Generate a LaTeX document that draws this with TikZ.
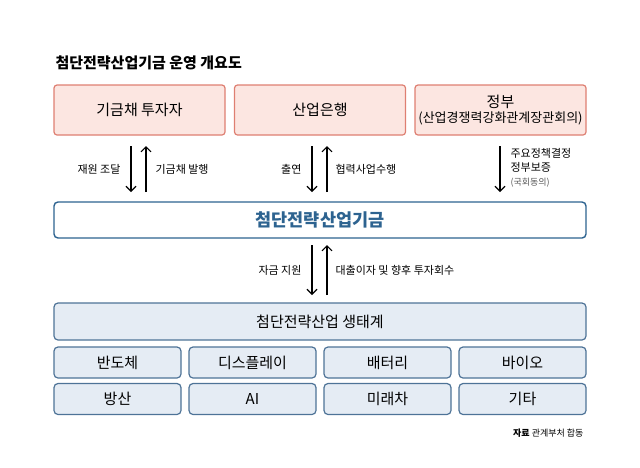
\documentclass[tikz,border=0pt]{standalone}
\usepackage{fontspec}
\setmainfont{Noto Sans CJK KR}
\usetikzlibrary{arrows.meta}
\definecolor{pinkfill}{HTML}{FCE6E1}
\definecolor{pinkline}{HTML}{DE7F72}
\definecolor{bluefill}{HTML}{E5ECF4}
\definecolor{blueline}{HTML}{4E7397}
\definecolor{titleblue}{HTML}{2D6390}
\tikzset{
  topbox/.style={draw=pinkline,fill=pinkfill,line width=1.2pt,rounded corners=3pt,minimum height=50pt,align=center,font=\fontsize{15}{18}\selectfont},
  fundbox/.style={draw=titleblue,fill=white,line width=1.4pt,rounded corners=4pt,minimum height=36pt,minimum width=532pt,text=titleblue,font=\bfseries\fontsize{17.5}{20}\selectfont},
  ecobox/.style={draw=blueline,fill=bluefill,line width=1.2pt,rounded corners=4pt,align=center,font=\fontsize{15}{18}\selectfont},
  arr/.style={-{Straight Barb[length=5pt,width=10pt]},line width=1.1pt},
  lbl/.style={font=\fontsize{11}{14}\selectfont},
}
\begin{document}
\begin{tikzpicture}[x=1pt,y=-1pt]
\useasboundingbox (0,0) rectangle (640,467);
\node[anchor=west,font=\bfseries\fontsize{15}{18}\selectfont] (title) at (52,63) {첨단전략산업기금 운영 개요도};
\node[topbox,minimum width=171pt] (inv) at (139.5,110) {기금채 투자자};
\node[topbox,minimum width=171pt] (bank) at (320,110) {산업은행};
\node[topbox,minimum width=171pt] (gov) at (500.5,110) {정부\\[-3pt]{\fontsize{13}{15}\selectfont(산업경쟁력강화관계장관회의)}};
\node[fundbox] (fund) at (320,220) {첨단전략산업기금};
\coordinate (a1s) at (131,146); \coordinate (a1e) at (131,192);
\coordinate (a2s) at (146,192); \coordinate (a2e) at (146,146);
\draw[arr] (a1s) -- (a1e); \draw[arr] (a2s) -- (a2e);
\node[lbl,anchor=east] (l1) at (124,169) {재원 조달};
\node[lbl,anchor=west] (l2) at (152,169) {기금채 발행};
\coordinate (b1s) at (312,146); \coordinate (b1e) at (312,192);
\coordinate (b2s) at (327,192); \coordinate (b2e) at (327,146);
\draw[arr] (b1s) -- (b1e); \draw[arr] (b2s) -- (b2e);
\node[lbl,anchor=east] (l3) at (305,169) {출연};
\node[lbl,anchor=west] (l4) at (332,169) {협력사업수행};
\coordinate (c1s) at (500,146); \coordinate (c1e) at (500,192);
\draw[arr] (c1s) -- (c1e);
\node[lbl,anchor=west,align=left] (l5) at (507,160) {주요정책결정\\정부보증};
\node[anchor=west,font=\fontsize{9}{11}\selectfont,text=black!65] (l6) at (507,183) {(국회동의)};
\coordinate (d1s) at (312,245); \coordinate (d1e) at (312,295);
\coordinate (d2s) at (327,295); \coordinate (d2e) at (327,245);
\draw[arr] (d1s) -- (d1e); \draw[arr] (d2s) -- (d2e);
\node[lbl,anchor=east] (l7) at (305,270) {자금 지원};
\node[lbl,anchor=west] (l8) at (332,270) {대출이자 및 향후 투자회수};
\node[ecobox,minimum width=532pt,minimum height=37pt] (eco) at (320,321.5) {첨단전략산업 생태계};
\foreach \n/\t/\x/\y in {s1/반도체/117.5/362.5, s2/디스플레이/252.5/362.5, s3/배터리/387.5/362.5, s4/바이오/522.5/362.5,
  s5/방산/117.5/399, s6/AI/252.5/399, s7/미래차/387.5/399, s8/기타/522.5/399}
  \node[ecobox,minimum width=127pt,minimum height=31pt] (\n) at (\x,\y) {\t};
\node[anchor=east,font=\fontsize{9}{11}\selectfont] (src) at (587,433) {\textbf{자료} 관계부처 합동};
\end{tikzpicture}
\end{document}
